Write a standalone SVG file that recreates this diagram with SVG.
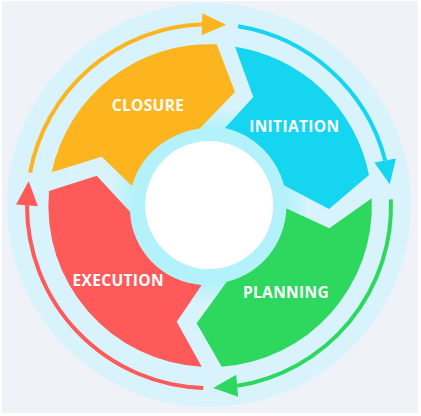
<svg xmlns="http://www.w3.org/2000/svg" width="421" height="416" viewBox="0 0 421 416">
  <defs>
    <radialGradient id="glow" cx="0.5" cy="0.5" r="0.5">
      <stop offset="0.77" stop-color="#b3f2fb"/>
      <stop offset="1" stop-color="#d9f3fc"/>
    </radialGradient>
    <style>
      .lbl { font-family: "Open Sans", "Liberation Sans", sans-serif; font-weight: 700; font-size: 15.5px; letter-spacing: 0.35px; fill: #ffffff; text-anchor: middle; }
      .arc { fill: none; stroke-width: 4; stroke-linecap: butt; }
    </style>
  </defs>
  <rect x="0" y="0" width="421" height="416" fill="#ffffff"/>
  <rect x="2" y="1" width="416" height="412" fill="#eff3f8"/>
  <circle cx="209" cy="205" r="202" fill="#d9f3fc"/>
  <circle cx="209.5" cy="205.5" r="100" fill="url(#glow)"/>

  <g id="closure">
    <path d="M51.7,172.3 A161.5,161.5 0 0 1 216.7,44.3 L235,92 L198.3,130 A77,77 0 0 0 132,186 L101.7,156.7 Z" fill="#fdb51f"/>
    <text class="lbl" x="148" y="110.8">CLOSURE</text>
  </g>
  <g id="initiation">
    <path d="M235,46.7 A161.5,161.5 0 0 1 369,175 L329,209 L283.3,185 A77,77 0 0 0 225,128 L253.3,97 Z" fill="#15d5f1"/>
    <text class="lbl" x="294.3" y="132.4">INITIATION</text>
  </g>
  <g id="planning">
    <path d="M371.7,198.3 A161.5,161.5 0 0 1 221.7,366.7 L196.7,323.3 L226.7,281.7 A77,77 0 0 0 286,208.3 L329.3,228.3 Z" fill="#2ed85f"/>
    <text class="lbl" x="286" y="298.4">PLANNING</text>
  </g>
  <g id="execution">
    <path d="M201.7,366.7 A161.5,161.5 0 0 1 49,191 L96.7,175.7 L130,211.7 A77,77 0 0 0 201.7,285 L176.7,321.7 Z" fill="#fe5a5a"/>
    <text class="lbl" x="118.2" y="286.1">EXECUTION</text>
  </g>

  <g id="hub">
    <circle cx="209.5" cy="205" r="77" fill="#b3f2fb"/>
    <circle cx="209.2" cy="205" r="64" fill="#ffffff"/>
  </g>

  <g id="connectors">
    <path class="arc" stroke="#fdb51f" d="M30.10,172.52 A182,182 0 0 1 202.01,24.13"/>
    <polygon fill="#fdb51f" points="226.13,24.81 202.32,13.13 201.70,35.13"/>
    <path class="arc" stroke="#15d5f1" d="M238.10,26.34 A182,182 0 0 1 385.20,160.43"/>
    <polygon fill="#15d5f1" points="389.68,184.13 396.01,158.39 374.39,162.47"/>
    <path class="arc" stroke="#2ed85f" d="M390.88,199.33 A182,182 0 0 1 237.16,385.81"/>
    <polygon fill="#2ed85f" points="213.13,387.95 236.18,374.86 238.14,396.76"/>
    <path class="arc" stroke="#fe5a5a" d="M203.28,387.91 A182,182 0 0 1 27.00,205.36"/>
    <polygon fill="#fe5a5a" points="28.68,181.30 37.97,206.13 16.03,204.59"/>
  </g>
</svg>
